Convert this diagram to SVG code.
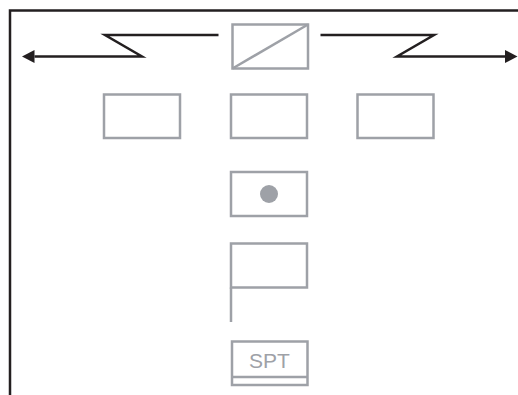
<svg xmlns="http://www.w3.org/2000/svg" width="518" height="395" viewBox="0 0 518 395">
<style>
.n{fill:none;stroke:#9ea1a7;stroke-width:2.500}
.c{fill:none;stroke:#231f20;stroke-width:2.500}
.t{font-family:"Liberation Sans",Arial,sans-serif;font-size:21px;fill:#9ea1a7}
</style>
<defs>
<marker id="a" markerUnits="userSpaceOnUse" markerWidth="13" markerHeight="14" refX="0" refY="6.500" orient="auto" overflow="visible"><path d="M0 0L12.500 6.500L0 13Z" fill="#231f20"/></marker>
</defs>
<rect width="518" height="395" fill="#fff"/>
<g id="frame"><path d="M10 395V10.500H518" fill="none" stroke="#231f20" stroke-width="2.500"/></g>
<g id="connectors">
<path class="c" d="M218.500 35H105L142 56.500H34.500" marker-end="url(#a)"/>
<path class="c" d="M320.500 35H434L397 56.500H505" marker-end="url(#a)"/>
</g>
<g id="node-top"><rect class="n" x="232.500" y="24.500" width="75.500" height="44"/><path class="n" d="M232.500 68.500L308 24.500"/></g>
<g id="node-left"><rect class="n" x="104" y="94.500" width="76" height="43.500"/></g>
<g id="node-center"><rect class="n" x="231" y="94.500" width="76" height="43.500"/></g>
<g id="node-right"><rect class="n" x="357.500" y="94.500" width="76" height="43.500"/></g>
<g id="node-dot"><rect class="n" x="231" y="172" width="76" height="44"/><circle cx="269" cy="194" r="9" fill="#9ea1a7"/></g>
<g id="node-flag"><rect class="n" x="231" y="243.500" width="76" height="44"/><path class="n" d="M231 287.500V322"/></g>
<g id="node-spt"><rect class="n" x="232" y="341.500" width="75.500" height="43.500"/><path class="n" d="M232 377H307.500"/><text class="t" x="269.500" y="368" text-anchor="middle">SPT</text></g>
</svg>
